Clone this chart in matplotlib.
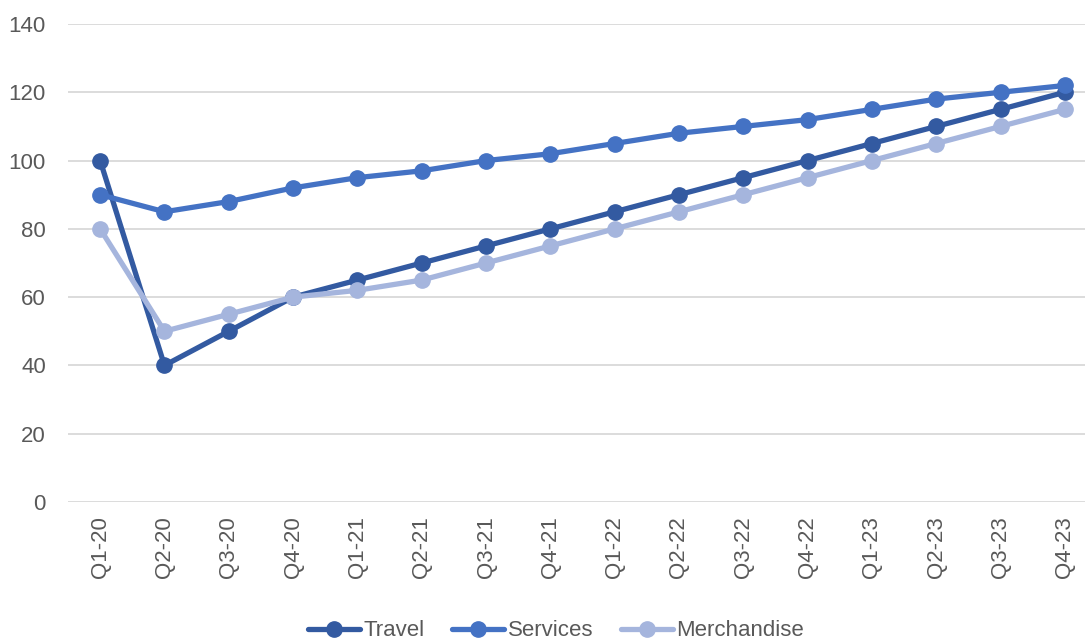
import matplotlib
matplotlib.use("Agg")
import matplotlib.pyplot as plt

quarters = ["Q1-20", "Q2-20", "Q3-20", "Q4-20", "Q1-21", "Q2-21", "Q3-21", "Q4-21",
            "Q1-22", "Q2-22", "Q3-22", "Q4-22", "Q1-23", "Q2-23", "Q3-23", "Q4-23"]
travel = [100, 40, 50, 60, 65, 70, 75, 80, 85, 90, 95, 100, 105, 110, 115, 120]
services = [90, 85, 88, 92, 95, 97, 100, 102, 105, 108, 110, 112, 115, 118, 120, 122]
merchandise = [80, 50, 55, 60, 62, 65, 70, 75, 80, 85, 90, 95, 100, 105, 110, 115]

plt.rcParams['font.family'] = ['Liberation Sans', 'DejaVu Sans']
grey = '#595959'

fig = plt.figure(figsize=(10.85, 6.41), dpi=100)
ax = fig.add_axes([68 / 1085, 139 / 641, 1029 / 1085, 478 / 641])

x = range(len(quarters))
series = [("Travel", travel, '#335AA1'),
          ("Services", services, '#4472C4'),
          ("Merchandise", merchandise, '#A5B5DD')]
for name, vals, col in series:
    ax.plot(x, vals, color=col, lw=3.8, marker='o', ms=11, label=name,
            solid_capstyle='round', clip_on=False)

ax.set_xlim(-0.5, len(quarters) - 0.5)
ax.set_ylim(0, 140)
ax.set_yticks(range(0, 141, 20))
ax.set_xticks(list(x))
ax.set_xticklabels(quarters, rotation=90)
ax.grid(axis='y', color='#d9d9d9', lw=1.3)
ax.set_axisbelow(True)
for s in ax.spines.values():
    s.set_visible(False)
ax.tick_params(length=0, colors=grey, labelsize=16)
ax.tick_params(axis='y', pad=16)
ax.tick_params(axis='x', pad=10)

fig.legend(loc='center', bbox_to_anchor=(556 / 1085, 1 - 631 / 641), ncol=3,
           frameon=False, fontsize=16, handlelength=2.35, handletextpad=0.15,
           columnspacing=1.25, labelcolor=grey)

fig.savefig("out.png", dpi=100)
